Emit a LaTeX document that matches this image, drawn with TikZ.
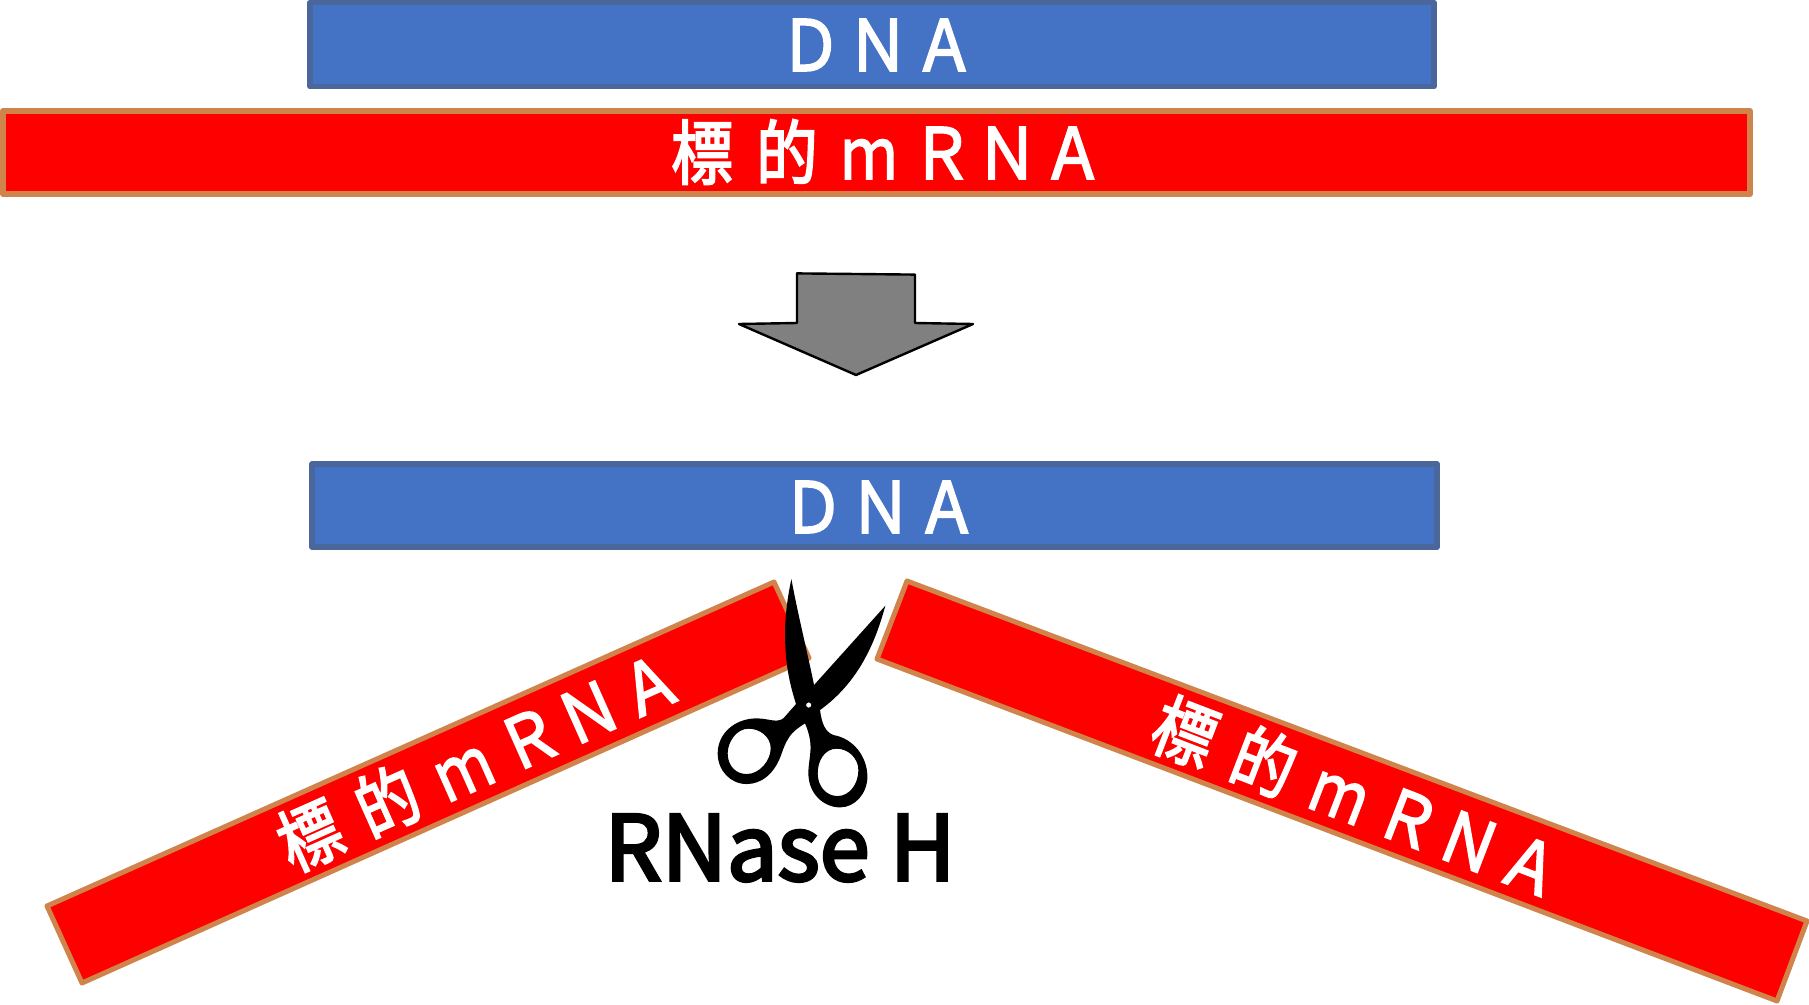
\documentclass[tikz,border=0pt]{standalone}
\usepackage{fontspec}
\usepackage{graphicx}
\setmainfont[FakeBold=3]{Noto Sans CJK JP}
\newfontfamily\lbl[FakeBold=3.5]{Noto Sans CJK JP}
\definecolor{dnafill}{HTML}{4472C4}
\definecolor{dnaline}{HTML}{4A669A}
\definecolor{rnaline}{HTML}{D0844C}
\definecolor{arrowfill}{HTML}{808080}
\newcommand{\cellbox}[2]{\makebox[#1pt][c]{\scalebox{.88}[1]{#2}}}
\newcommand{\dnaword}{\cellbox{34}{Ｄ}\cellbox{33.5}{Ｎ}\cellbox{33}{Ａ}}
\newcommand{\rnaword}{\cellbox{44}{標}\cellbox{41}{的}\cellbox{41}{\scalebox{.9}[1]{ｍ}}\cellbox{32}{Ｒ}\cellbox{33}{Ｎ}\cellbox{33}{Ａ}}
\tikzset{
  dnabar/.style={fill=dnafill,draw=dnaline,line width=2.8pt,line join=round},
  rnabar/.style={fill=red,draw=rnaline,line width=3pt,line join=round},
  rnacut/.style={fill=red,draw=rnaline,line width=2.5pt,line join=round},
  bartext/.style={text=white,font=\fontsize{35}{35}\selectfont,inner sep=0pt,anchor=center},
}
\begin{document}
\begin{tikzpicture}[x=.5pt,y=-.5pt]
\useasboundingbox (0,0) rectangle (1809,1005);
% upper pair
\draw[dnabar] (310,2.5) rectangle (1434,86.5);
\node[bartext] (dnaA) at (877,45) {\dnaword};
\draw[rnabar] (3,111) rectangle (1750,194);
\node[bartext] (rnaA) at (882,152) {\rnaword};
% block arrow
\draw[fill=arrowfill,draw=black,line width=1.2pt,line join=round]
  (797,273.4) -- (915,274.6) -- (915,323) -- (973,324) -- (856,375) -- (739,324) -- (797,323) -- cycle;
% lower pair
\draw[dnabar] (312,464) rectangle (1437,547);
\node[bartext] (dnaB) at (879.5,507) {\dnaword};
% cut strands
\draw[rnacut] (47,906) -- (82,983) -- (809,658) -- (774,582) -- cycle;
\node[bartext,rotate=24] (rnaB) at (474,762) {\rnaword};
\draw[rnacut] (907,581) -- (877,659) -- (1777,1001) -- (1807,921) -- cycle;
\node[bartext,rotate=-21] (rnaC) at (1353,796) {\rnaword};
% scissors
\begin{scope}[shift={(680,560)},x=.1667pt,y=-.1667pt]
\fill[black,even odd rule]
  (334,57) .. controls (355,170) and (385,290) .. (402,375)
  -- (616,137)
  .. controls (590,230) and (545,360) .. (420,450)
  .. controls (425,490) and (435,515) .. (460,525)
  .. controls (520,535) and (562,590) .. (562,650)
  .. controls (562,700) and (525,742) .. (480,742)
  .. controls (430,742) and (385,700) .. (385,640)
  .. controls (385,590) and (405,560) .. (375,490)
  .. controls (345,510) and (325,520) .. (305,580)
  .. controls (285,640) and (245,672) .. (200,672)
  .. controls (150,672) and (113,630) .. (113,580)
  .. controls (113,520) and (165,475) .. (230,475)
  .. controls (265,475) and (290,490) .. (310,475)
  -- (348,432)
  .. controls (325,360) and (315,300) .. (315,220)
  .. controls (315,160) and (325,100) .. (334,57) -- cycle
  (205,506) .. controls (170,506) and (143,545) .. (143,580)
  .. controls (143,620) and (170,642) .. (200,642)
  .. controls (240,642) and (272,600) .. (272,565)
  .. controls (272,530) and (240,506) .. (205,506) -- cycle
  (470,566) .. controls (435,566) and (413,600) .. (413,640)
  .. controls (413,680) and (440,708) .. (472,708)
  .. controls (510,708) and (535,670) .. (535,630)
  .. controls (535,595) and (505,566) .. (470,566) -- cycle
  (394,435) arc[start angle=0,end angle=360,radius=8];
\end{scope}
\node[inner sep=0pt,anchor=center,font=\lbl\fontsize{45}{45}\selectfont] (rnase) at (780,848) {RNase H};
\end{tikzpicture}
\end{document}
